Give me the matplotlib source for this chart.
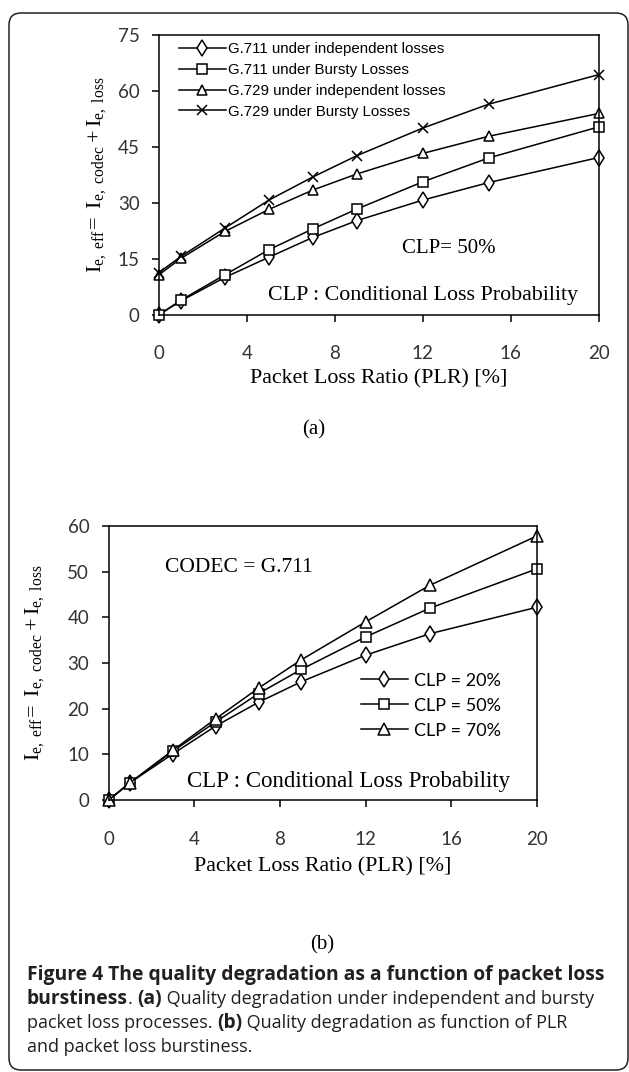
import matplotlib
matplotlib.use('Agg')
import matplotlib.pyplot as plt
from matplotlib.patches import FancyBboxPatch

plt.rcParams['mathtext.fontset'] = 'custom'
plt.rcParams['mathtext.rm'] = 'Liberation Serif'
plt.rcParams['mathtext.it'] = 'Liberation Serif'

# dados
plr = [0, 1, 3, 5, 7, 9, 12, 15, 20]

g711_indep = [0, 3.7, 10.0, 15.4, 20.7, 25.2, 30.7, 35.4, 42.1]
g711_bursty = [0, 3.9, 10.7, 17.4, 23.0, 28.3, 35.6, 42.0, 50.3]
g729_indep = [10.7, 15.1, 22.3, 28.2, 33.4, 37.7, 43.2, 47.8, 53.9]
g729_bursty = [11.3, 15.6, 23.2, 30.7, 36.9, 42.6, 50.0, 56.4, 64.3]
labels_a = ['G.711 under independent losses', 'G.711 under Bursty Losses',
            'G.729 under independent losses', 'G.729 under Bursty Losses']

clp20 = [0, 3.8, 10.1, 16.2, 21.4, 25.9, 31.7, 36.4, 42.2]
clp50 = [0, 3.8, 10.7, 17.1, 23.3, 28.6, 35.7, 42.0, 50.6]
clp70 = [0, 3.8, 10.9, 17.8, 24.5, 30.7, 39.0, 47.0, 57.8]
labels_b = ['CLP = 20%', 'CLP = 50%', 'CLP = 70%']

W, H = 629, 1072
fig = plt.figure(figsize=(W / 100, H / 100), dpi=100)

# camada de fundo em pixels (moldura + legenda da figura)
bg = fig.add_axes([0, 0, 1, 1], zorder=-1)
bg.set_xlim(0, W)
bg.set_ylim(H, 0)
bg.axis('off')
bg.add_patch(FancyBboxPatch((9, 13), 619, 1057, boxstyle='round,pad=0,rounding_size=12',
                            fill=False, lw=1.1, ec='#222222'))

serif = 'Liberation Serif'
tickfont = 'Lato'
ylab = r'$\mathrm{I_{e,\ eff}\!=\ I_{e,\ codec} + I_{e,\ loss}}$'


def style_axes(ax, yticks):
    ax.set_xlim(0, 20)
    ax.set_xticks([0, 4, 8, 12, 16, 20])
    ax.set_yticks(yticks)
    ax.set_ylim(yticks[0], yticks[-1])
    for s in ax.spines.values():
        s.set_linewidth(1.1)
    ax.tick_params(direction='out', length=5, width=1.1, labelsize=13.5)
    ax.tick_params(axis='x', pad=17)
    ax.tick_params(axis='y', pad=9)
    for lab in ax.get_xticklabels() + ax.get_yticklabels():
        lab.set_family(tickfont)
        lab.set_color('#333333')


mk = dict(color='black', lw=1.1, mfc='white', mec='black', mew=1.1, clip_on=False)

# (a)
ax1 = fig.add_axes([159 / W, 1 - 314.7 / H, 439.7 / W, 280 / H])
ax1.plot(plr, g711_indep, marker='d', ms=8, label=labels_a[0], **mk)
ax1.plot(plr, g711_bursty, marker='s', ms=7, label=labels_a[1], **mk)
ax1.plot(plr, g729_indep, marker='^', ms=7.5, label=labels_a[2], **mk)
ax1.plot(plr, g729_bursty, marker='x', ms=7, label=labels_a[3], **mk)
style_axes(ax1, [0, 15, 30, 45, 60, 75])
ax1.set_xlabel('Packet Loss Ratio (PLR) [%]', family=serif, fontsize=15.8, labelpad=5)
ax1.set_ylabel(ylab, fontsize=16)
ax1.yaxis.set_label_coords(-0.116, 0.5)
ax1.legend(loc='upper left', bbox_to_anchor=(0.0455, 0.973), frameon=False,
           prop={'family': 'Liberation Sans', 'size': 10.8}, borderpad=0, borderaxespad=0,
           handlelength=3.1, handletextpad=0.15, labelspacing=0.45)
ax1.text(13.2, 17.6, 'CLP= 50%', family=serif, fontsize=15, ha='center', va='center')
ax1.text(12.0, 5.1, 'CLP : Conditional Loss Probability', family=serif, fontsize=15.8,
         ha='center', va='center')
bg.text(314, 430, '(a)', family=serif, fontsize=15, ha='center', va='center')

# (b)
ax2 = fig.add_axes([108.7 / W, 1 - 800 / H, 428 / W, 274 / H])
ax2.plot(plr, clp20, marker='d', ms=8, label=labels_b[0], **mk)
ax2.plot(plr, clp50, marker='s', ms=7.5, label=labels_b[1], **mk)
ax2.plot(plr, clp70, marker='^', ms=8.5, label=labels_b[2], **mk)
style_axes(ax2, [0, 10, 20, 30, 40, 50, 60])
ax2.set_xlabel('Packet Loss Ratio (PLR) [%]', family=serif, fontsize=15.8, labelpad=7)
ax2.set_ylabel(ylab, fontsize=16)
ax2.yaxis.set_label_coords(-0.146, 0.5)
ax2.legend(loc='upper left', bbox_to_anchor=(0.589, 0.465), frameon=False,
           prop={'family': tickfont, 'size': 13}, borderpad=0, borderaxespad=0,
           handlelength=2.6, handletextpad=0.33, labelspacing=0.5)
ax2.text(6.1, 51, 'CODEC = G.711', family=serif, fontsize=15.5, ha='center', va='center')
ax2.text(11.2, 4.0, 'CLP : Conditional Loss Probability', family=serif, fontsize=16.5,
         ha='center', va='center')
bg.text(322, 945, '(b)', family=serif, fontsize=15, ha='center', va='center')

# legenda da figura, com trechos em negrito
caption = [
    [('Figure 4 The quality degradation as a function of packet loss', 'bold')],
    [('burstiness', 'bold'), ('. ', 'normal'), ('(a)', 'bold'),
     (' Quality degradation under independent and bursty', 'normal')],
    [('packet loss processes. ', 'normal'), ('(b)', 'bold'),
     (' Quality degradation as function of PLR', 'normal')],
    [('and packet loss burstiness.', 'normal')],
]
cap_size = {'bold': 13.9, 'normal': 13.0}
renderer = fig.canvas.get_renderer()
y = 975
for line in caption:
    x = 27
    for txt, wt in line:
        t = bg.text(x, y, txt, family='Open Sans', fontsize=cap_size[wt], weight=wt,
                    color='#231f20', ha='left', va='center')
        x += t.get_window_extent(renderer).width
    y += 24

fig.savefig('out.png', dpi=100)
